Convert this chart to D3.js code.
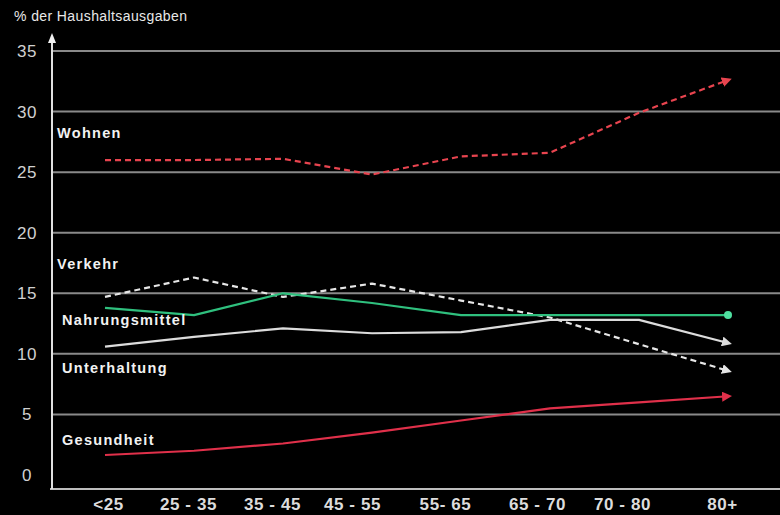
<!DOCTYPE html>
<html>
<head>
<meta charset="utf-8">
<script src="https://cdn.jsdelivr.net/npm/d3@7"></script>
<style>
  body { margin: 0; background: #000; }
  svg { display: block; background: #000; }
  .axis text { font-family: "Liberation Sans", Arial, sans-serif; }
</style>
</head>
<body>
<svg id="chart" width="780" height="515"></svg>
<script>
// age groups on the x axis
var ageGroups = ["<25", "25 - 35", "35 - 45", "45 - 55", "55- 65", "65 - 70", "70 - 80", "80+"];
var yTicks = [0, 5, 10, 15, 20, 25, 30, 35];

// % der Haushaltsausgaben per age group
var wohnen         = [26.0, 26.0, 26.1, 24.8, 26.3, 26.6, 29.9, 32.6];
var verkehr        = [14.7, 16.3, 14.7, 15.8, 14.4, 13.0, 10.8, 8.6];
var nahrungsmittel = [13.8, 13.2, 15.0, 14.2, 13.2, 13.2, 13.2, 13.2];
var unterhaltung   = [10.6, 11.4, 12.1, 11.7, 11.8, 12.8, 12.8, 10.9];
var gesundheit     = [1.65, 2.0, 2.6, 3.5, 4.5, 5.5, 6.0, 6.5];

var series = [
  { name: "Wohnen", values: wohnen, color: "#e8444f", dash: "6,4", end: "arrow" },
  { name: "Verkehr", values: verkehr, color: "#e6e6e6", dash: "6,4", end: "arrow" },
  { name: "Nahrungsmittel", values: nahrungsmittel, color: "#2fc07e", dash: null, end: "dot" },
  { name: "Unterhaltung", values: unterhaltung, color: "#dcdcdc", dash: null, end: "arrow" },
  { name: "Gesundheit", values: gesundheit, color: "#e0304a", dash: null, end: "arrow" }
];

// label placement (layout only)
var labelPos = {
  "Wohnen": [57, 138],
  "Verkehr": [57, 269],
  "Nahrungsmittel": [62, 325],
  "Unterhaltung": [62, 373],
  "Gesundheit": [62, 445]
};
// the printed tick labels sit a little off the data columns
var tickNudge = [3, -6, -11, -20, -16, -13, -17, -6];

var svg = d3.select("#chart");
var width = +svg.attr("width");
var height = +svg.attr("height");
var axisX = 52, baseY = 489;

var xScale = d3.scalePoint()
               .domain(ageGroups)
               .range([105, 728]);

var yScale = d3.scaleLinear()
               .domain([0, 35])
               .range([475, 51]);

// gridlines
svg.append("g")
    .selectAll("line")
    .data(yTicks.filter(d => d > 0))
    .enter()
    .append("line")
      .attr("x1", axisX)
      .attr("x2", width)
      .attr("y1", d => yScale(d))
      .attr("y2", d => yScale(d))
      .attr("stroke", "#8a8a8a")
      .attr("stroke-width", 2);

// y tick labels
var yAxis = d3.axisLeft(yScale)
              .tickValues(yTicks)
              .tickSize(0)
              .tickPadding(0);

var yg = svg.append("g")
    .classed("axis", true)
    .attr("transform", "translate(27,0)")
    .call(yAxis);
yg.select(".domain").remove();
yg.selectAll("text")
    .attr("text-anchor", "middle")
    .attr("fill", "#d0d0d0")
    .attr("font-size", 17)
    .attr("letter-spacing", 0.5);

// x axis
var xAxis = d3.axisBottom(xScale)
              .tickSize(0)
              .tickPadding(9);

var xg = svg.append("g")
    .classed("axis", true)
    .attr("transform", "translate(0," + baseY + ")")
    .call(xAxis);
xg.select(".domain").remove();
xg.selectAll("text")
    .attr("dx", (d, i) => tickNudge[i])
    .attr("fill", "#dcdcdc")
    .attr("font-family", "'Liberation Sans Narrow', 'Liberation Sans', Arial, sans-serif")
    .attr("font-size", 17)
    .attr("font-weight", "bold")
    .attr("letter-spacing", 0.6);

svg.append("line")
    .attr("x1", axisX - 2).attr("x2", width)
    .attr("y1", baseY).attr("y2", baseY)
    .attr("stroke", "#bdbdbd").attr("stroke-width", 2);

// y axis with arrow
svg.append("line")
    .attr("x1", axisX).attr("x2", axisX)
    .attr("y1", baseY).attr("y2", 40)
    .attr("stroke", "#e0e0e0").attr("stroke-width", 2);
svg.append("path")
    .attr("d", d3.line()([[axisX - 4, 43], [axisX, 33], [axisX + 4, 43]]) + "Z")
    .attr("fill", "#f0f0f0");

svg.append("text")
    .attr("x", 14).attr("y", 21)
    .attr("fill", "#e8e8e8")
    .attr("font-family", "Liberation Sans, Arial, sans-serif")
    .attr("font-size", 14)
    .attr("letter-spacing", 0.4)
    .text("% der Haushaltsausgaben");

// arrow markers
var defs = svg.append("defs");
series.forEach(function(s, i) {
  defs.append("marker")
      .attr("id", "arrow" + i)
      .attr("viewBox", "0 0 10 10")
      .attr("refX", 6).attr("refY", 5)
      .attr("markerWidth", 10).attr("markerHeight", 10)
      .attr("markerUnits", "userSpaceOnUse")
      .attr("orient", "auto")
    .append("path")
      .attr("d", "M0,0 L10,5 L0,10 Z")
      .attr("fill", s.color);
});

var line = d3.line()
             .x((d, i) => xScale(ageGroups[i]))
             .y(d => yScale(d));

series.forEach(function(s, i) {
  var p = svg.append("path")
      .datum(s.values)
      .attr("d", line)
      .attr("fill", "none")
      .attr("stroke", s.color)
      .attr("stroke-width", 2.2)
      .attr("stroke-linejoin", "round");
  if (s.dash) p.attr("stroke-dasharray", s.dash);
  if (s.end === "arrow") p.attr("marker-end", "url(#arrow" + i + ")");
  else {
    var last = s.values.length - 1;
    svg.append("circle")
        .attr("cx", xScale(ageGroups[last]))
        .attr("cy", yScale(s.values[last]))
        .attr("r", 4)
        .attr("fill", "#4fe0a0");
  }
});

// series labels
svg.append("g")
    .selectAll("text")
    .data(series)
    .enter()
    .append("text")
      .attr("x", d => labelPos[d.name][0])
      .attr("y", d => labelPos[d.name][1])
      .attr("fill", "#f2f2f2")
      .attr("font-family", "Liberation Sans, Arial, sans-serif")
      .attr("font-size", 14.5)
      .attr("font-weight", "bold")
      .attr("letter-spacing", 1.3)
      .text(d => d.name);
</script>
</body>
</html>
